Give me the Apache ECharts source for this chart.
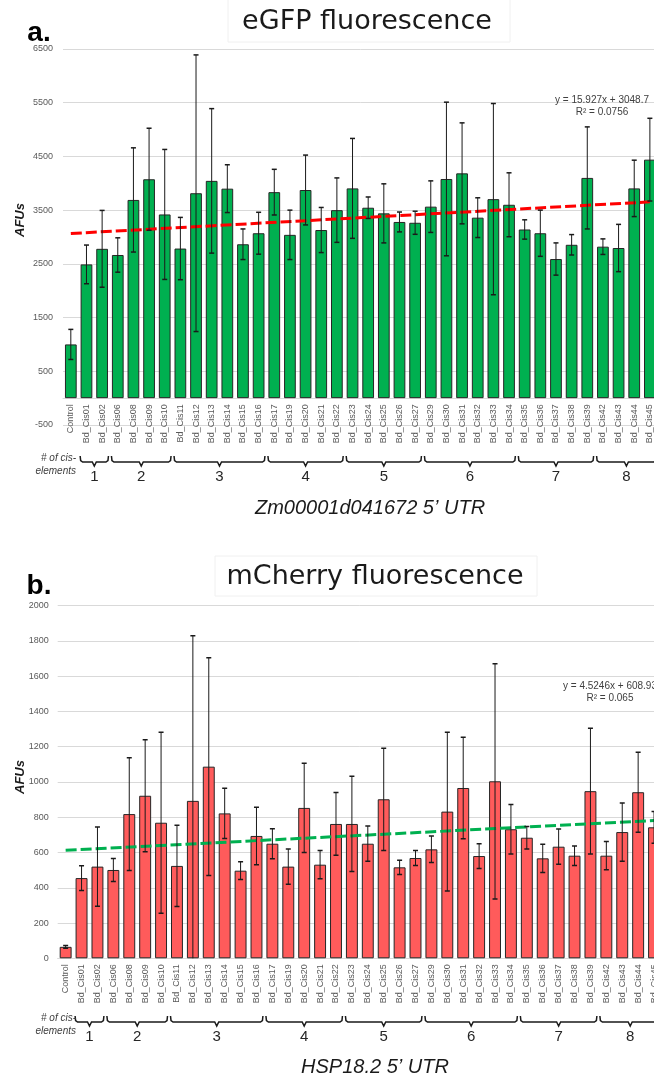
<!DOCTYPE html>
<html><head><meta charset="utf-8">
<script src="https://cdn.jsdelivr.net/npm/echarts@6/dist/echarts.min.js"></script>
<style>html,body{margin:0;padding:0;overflow:hidden;background:#fff;width:654px;height:1080px}
#c{width:670px;height:1080px}</style></head><body><div id="c"></div>
<script>
// ---- data ----
var categories = ['Control','Bd_Cis01','Bd_Cis02','Bd_Cis06','Bd_Cis08','Bd_Cis09','Bd_Cis10','Bd_Cis11','Bd_Cis12','Bd_Cis13','Bd_Cis14','Bd_Cis15','Bd_Cis16','Bd_Cis17','Bd_Cis19','Bd_Cis20','Bd_Cis21','Bd_Cis22','Bd_Cis23','Bd_Cis24','Bd_Cis25','Bd_Cis26','Bd_Cis27','Bd_Cis29','Bd_Cis30','Bd_Cis31','Bd_Cis32','Bd_Cis33','Bd_Cis34','Bd_Cis35','Bd_Cis36','Bd_Cis37','Bd_Cis38','Bd_Cis39','Bd_Cis42','Bd_Cis43','Bd_Cis44','Bd_Cis45'];
var egfpMean = [1000,2490,2780,2665,3690,4075,3420,2785,3815,4045,3900,2865,3070,3835,3040,3875,3130,3500,3905,3545,3440,3280,3265,3565,4080,4185,3360,3705,3600,3140,3070,2590,2855,4100,2820,2795,3905,4440];
var egfpErr  = [280,360,715,320,970,950,1210,580,2575,1345,445,285,390,425,460,650,420,600,930,200,550,185,215,480,1430,940,370,1780,595,180,430,300,190,950,145,440,525,770];
var mcherryMean = [65,455,520,501,818,922,769,524,893,1087,822,497,694,650,520,853,531,762,762,650,902,516,569,618,832,966,580,1004,732,684,567,633,582,948,582,716,942,743];
var mcherryErr  = [8,70,225,65,320,318,513,230,937,618,142,50,163,85,100,253,80,178,270,100,290,40,43,75,450,288,70,667,141,64,80,100,55,357,80,165,227,90];
var trendEgfp = [3065, 3654];      // trendline value at first / last category
var trendMcherry = [613, 781];
var groupLabels = ['1','2','3','4','5','6','7','8'];
var groupCounts = [2,4,6,5,5,6,5,4];
var egfpTicks = {min:-500, max:6500, step:1000};
var mcherryTicks = {min:0, max:2000, step:200};

var FONT = '"Liberation Sans", Arial, sans-serif';
var chart = echarts.init(document.getElementById('c'), null, {renderer:'canvas'});

var grids = [{left:63, top:49, width:594.7, height:376},{left:57.7, top:605.7, width:604.3, height:352.6}];
// offset that puts the category axis (and its labels) on the value 0
function zeroOffset(gr, t){ return -gr.height * (0 - t.min) / (t.max - t.min); }

function errRender(params, api){
  var x = api.value(0), lo = api.value(1), hi = api.value(2);
  var a = api.coord([x, hi]), b = api.coord([x, lo]);
  var w = 2.5, st = {stroke:'#1a1a1a', lineWidth:1};
  return {type:'group', children:[
    {type:'line', shape:{x1:a[0],y1:a[1],x2:b[0],y2:b[1]}, style:st},
    {type:'line', shape:{x1:a[0]-w,y1:a[1],x2:a[0]+w,y2:a[1]}, style:{stroke:'#1a1a1a', lineWidth:1.5}},
    {type:'line', shape:{x1:b[0]-w,y1:b[1],x2:b[0]+w,y2:b[1]}, style:{stroke:'#1a1a1a', lineWidth:1.5}}
  ]};
}
function xAx(i, off){
  return {type:'category', gridIndex:i, data:categories, axisTick:{show:false}, position:'bottom', offset:off,
    axisLine:{onZero:false, lineStyle:{color:'#d9d9d9', width:1}},
    axisLabel:{rotate:90, interval:0, fontSize:9, color:'#595959', margin:6, fontFamily:FONT}};
}
function yAx(i, t, margin){
  return {type:'value', gridIndex:i, min:t.min, max:t.max, interval:t.step,
    axisLine:{show:false}, axisTick:{show:false},
    axisLabel:{fontSize:9, color:'#595959', margin:margin, fontFamily:FONT, formatter:function(v){return String(v);}},
    splitLine:{lineStyle:{color:'#d9d9d9', width:1}}};
}
function errData(m, e){ return m.map(function(v,i){ return [i, v-e[i], v+e[i]]; }); }

var last = categories.length - 1;
chart.setOption({
  animation:false,
  grid:grids,
  xAxis:[xAx(0, zeroOffset(grids[0], egfpTicks)), xAx(1, zeroOffset(grids[1], mcherryTicks))],
  yAxis:[yAx(0, egfpTicks, 10), yAx(1, mcherryTicks, 9)],
  series:[
    {type:'bar', xAxisIndex:0, yAxisIndex:0, data:egfpMean, barWidth:'75%',
     itemStyle:{color:'#00B050', borderColor:'#262626', borderWidth:1}},
    {type:'line', xAxisIndex:0, yAxisIndex:0, data:[[0,trendEgfp[0]],[last,trendEgfp[1]]],
     symbol:'none', z:4, lineStyle:{color:'#FF0000', width:3, type:[11,4]}},
    {type:'custom', xAxisIndex:0, yAxisIndex:0, data:errData(egfpMean, egfpErr), renderItem:errRender,
     encode:{x:0, y:[1,2]}, z:5, clip:true},
    {type:'bar', xAxisIndex:1, yAxisIndex:1, data:mcherryMean, barWidth:'75%',
     itemStyle:{color:'#FF5B5B', borderColor:'#262626', borderWidth:1}},
    {type:'line', xAxisIndex:1, yAxisIndex:1, data:[[0,trendMcherry[0]],[last,trendMcherry[1]]],
     symbol:'none', z:4, lineStyle:{color:'#00B050', width:3, type:[11,4]}},
    {type:'custom', xAxisIndex:1, yAxisIndex:1, data:errData(mcherryMean, mcherryErr), renderItem:errRender,
     encode:{x:0, y:[1,2]}, z:5, clip:true}
  ]
});

// ---- annotations (positions derived from the axes) ----
var g = [];
function txt(x, y, s, opt){
  var o = {type:'text', x:x, y:y, z:10, style:Object.assign({text:s, fill:'#1a1a1a', font:'12px '+FONT, textAlign:'center', textVerticalAlign:'middle'}, opt||{})};
  g.push(o); return o;
}
function brackets(ai, yTop, numY, labY){
  var p0 = chart.convertToPixel({xAxisIndex:ai}, 0), p1 = chart.convertToPixel({xAxisIndex:ai}, 1);
  var bw = p1 - p0, start = 1;
  groupCounts.forEach(function(n, k){
    var xl = chart.convertToPixel({xAxisIndex:ai}, start) - bw/2 + 1.5;
    var xr = chart.convertToPixel({xAxisIndex:ai}, start+n-1) + bw/2 - 1.5;
    var mid = (xl + xr)/2, y1 = yTop + 6;
    g.push({type:'polyline', z:10, shape:{points:[[xl,yTop],[xl+0.5,y1-1.5],[xl+2.5,y1],[mid-2,y1],[mid,y1+4],[mid+2,y1],[xr-2.5,y1],[xr-0.5,y1-1.5],[xr,yTop]]},
      style:{stroke:'#1a1a1a', lineWidth:1.5, fill:null}});
    txt(mid, numY, groupLabels[k], {font:'15px '+FONT, fill:'#262626'});
    start += n;
  });
  txt(76, labY, '# of cis-', {font:'italic 10px '+FONT, fill:'#404040', textAlign:'right'});
  txt(76, labY+13, 'elements', {font:'italic 10px '+FONT, fill:'#404040', textAlign:'right'});
}
brackets(0, 456, 477, 458);
brackets(1, 1016, 1037, 1018);

// title boxes (faint)
g.push({type:'rect', z:1, shape:{x:228, y:-2, width:282, height:44}, style:{fill:null, stroke:'#f0f0f0', lineWidth:1}});
g.push({type:'rect', z:1, shape:{x:215, y:556, width:322, height:40}, style:{fill:null, stroke:'#f0f0f0', lineWidth:1}});
txt(367, 22, 'eGFP fluorescence', {font:'27px "DejaVu Sans", sans-serif', fill:'#1a1a1a'});
txt(375, 577, 'mCherry fluorescence', {font:'27px "DejaVu Sans", sans-serif', fill:'#1a1a1a'});
txt(39, 33, 'a.', {font:'bold 28px '+FONT, fill:'#000'});
txt(39, 586, 'b.', {font:'bold 28px '+FONT, fill:'#000'});
// y axis names
g.push({type:'text', x:20, y:220, rotation:Math.PI/2, z:10, style:{text:'AFUs', font:'italic bold 13px '+FONT, fill:'#1a1a1a', textAlign:'center', textVerticalAlign:'middle'}});
g.push({type:'text', x:20, y:777, rotation:Math.PI/2, z:10, style:{text:'AFUs', font:'italic bold 13px '+FONT, fill:'#1a1a1a', textAlign:'center', textVerticalAlign:'middle'}});
// x axis names
txt(370, 508, 'Zm00001d041672 5\u2019 UTR', {font:'italic 20px '+FONT, fill:'#1a1a1a'});
txt(375, 1067, 'HSP18.2 5\u2019 UTR', {font:'italic 20px '+FONT, fill:'#1a1a1a'});
// trendline equations
txt(602, 100, 'y = 15.927x + 3048.7', {font:'10px '+FONT, fill:'#404040'});
txt(602, 112, 'R\u00b2 = 0.0756', {font:'10px '+FONT, fill:'#404040'});
txt(563, 686, 'y = 4.5246x + 608.93', {font:'10px '+FONT, fill:'#404040', textAlign:'left'});
txt(610, 698, 'R\u00b2 = 0.065', {font:'10px '+FONT, fill:'#404040'});

chart.setOption({graphic:{elements:g}});
</script></body></html>
